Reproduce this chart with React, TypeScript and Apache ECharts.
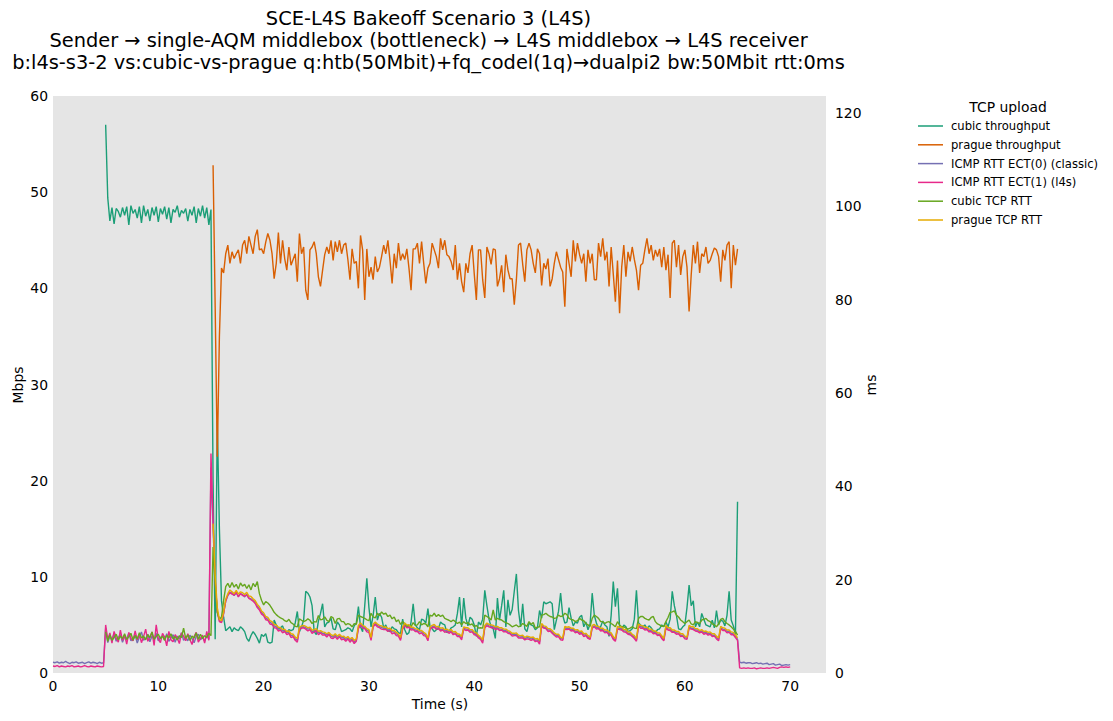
import React, { useEffect, useRef } from "react";
import * as echarts from "echarts";

const STEP = 0.2;
const FONT = "'DejaVu Sans', sans-serif";

const SERIES_NAMES = [
  "cubic throughput",
  "prague throughput",
  "ICMP RTT ECT(0) (classic)",
  "ICMP RTT ECT(1) (l4s)",
  "cubic TCP RTT",
  "prague TCP RTT",
];
const SERIES_COLORS = ["#1b9e77", "#d95f02", "#7570b3", "#e7298a", "#66a61e", "#e6ab02"];

const X_TICKS = [0, 10, 20, 30, 40, 50, 60, 70];
const LEFT_TICKS = [0, 10, 20, 30, 40, 50, 60];
const RIGHT_TICKS = [0, 20, 40, 60, 80, 100, 120];

// cubic throughput (Mbps), from 5.0 s
const cubicTputStart = 5.0;
const cubicTput = [
  57.0, 49.4, 47.0, 48.4, 46.7,
  48.3, 48.0, 47.4, 48.4, 47.6,
  48.5, 46.6, 48.6, 47.8, 48.2,
  47.3, 48.5, 46.8, 48.6, 47.5,
  48.2, 47.0, 48.4, 47.6, 48.5,
  46.9, 48.3, 47.7, 48.5, 47.2,
  48.4, 46.8, 48.2, 47.9, 48.6,
  47.4, 48.1, 47.8, 48.3, 47.0,
  48.2, 47.6, 48.5, 46.8, 48.3,
  47.5, 48.6, 47.3, 48.4, 46.6,
  48.2, 20.0, 3.5, 26.2, 15.0,
  7.5, 5.8, 4.4, 4.6, 4.8,
  4.3, 4.7, 4.5, 4.4, 4.8,
  4.6, 4.3, 3.6, 3.3, 3.9,
  4.3, 4.0, 3.6, 3.1, 4.0,
  3.8, 4.1, 3.2, 3.1, 3.2,
  5.5, 5.0, 4.6, 4.7, 4.9,
  4.3, 4.2, 4.5, 4.4, 4.5,
  5.2, 6.4, 4.3, 4.8, 5.5,
  8.5, 8.3, 7.9, 7.0, 4.3,
  4.0, 5.4, 6.2, 7.2, 4.8,
  5.2, 5.3, 5.7, 4.6, 4.5,
  5.3, 5.0, 4.3, 4.4, 4.5,
  4.7, 4.6, 4.3, 4.9, 5.2,
  6.9, 4.8, 4.3, 7.0, 9.85,
  6.8, 4.8, 6.0, 7.9, 5.5,
  6.2, 5.8, 4.7, 5.0, 4.4,
  4.3, 4.8, 4.6, 4.5, 4.2,
  4.1, 5.6, 4.5, 4.0, 4.2,
  5.3, 7.2, 5.0, 4.7, 4.5,
  5.6, 5.5, 5.2, 6.7, 4.8,
  4.6, 4.3, 4.5, 4.6, 5.3,
  5.1, 5.0, 4.2, 4.3, 4.7,
  4.8, 5.0, 6.2, 7.9, 4.8,
  7.8, 5.7, 4.9, 5.8, 5.6,
  5.0, 3.8, 5.3, 5.0, 5.6,
  8.6, 7.0, 5.6, 4.8, 4.6,
  3.6, 7.8, 5.5, 7.0, 8.6,
  4.8, 7.6, 6.0, 6.6, 8.5,
  10.3, 6.5, 4.8, 7.2, 4.6,
  4.3, 5.2, 5.0, 4.9, 4.5,
  4.7, 6.5, 5.7, 7.4, 7.2,
  7.3, 7.4, 7.2, 4.5, 5.5,
  6.4, 8.3, 6.0, 5.2, 5.3,
  6.8, 5.7, 4.9, 5.3, 5.2,
  5.8, 6.0, 4.8, 5.3, 4.5,
  5.1, 8.3, 6.0, 5.2, 4.6,
  4.8, 5.4, 5.0, 4.8, 3.8,
  6.0, 9.5, 6.9, 8.8, 4.8,
  4.5, 5.0, 4.8, 4.3, 4.4,
  4.6, 5.6, 8.6, 5.2, 5.0,
  4.8, 5.0, 4.6, 4.9, 4.7,
  4.4, 4.2, 4.5, 4.6, 5.0,
  4.8, 5.3, 4.8, 5.6, 8.5,
  7.0, 6.0, 4.6, 4.5, 4.8,
  5.0, 6.8, 9.15, 7.0, 7.5,
  4.8, 5.3, 4.8, 6.2, 5.6,
  5.0, 4.9, 4.8, 5.5, 4.7,
  6.5, 5.0, 5.5, 5.4, 4.9,
  6.0, 8.5, 5.5, 4.9, 4.0,
  17.8,
];

// prague throughput (Mbps), from 15.2 s
const pragueTputStart = 15.2;
const pragueTput = [
  52.8, 38.0, 22.5, 35.0,
  42.1, 41.6, 43.6, 44.5, 42.6, 43.8, 43.1, 43.6, 44.0, 42.6,
  44.5, 45.0, 43.6, 45.4, 44.5, 43.6, 45.4, 46.1, 44.0, 44.1,
  43.6, 44.8, 45.7, 45.0, 43.6, 41.0, 42.6, 45.8, 42.6, 45.0,
  43.1, 41.9, 44.3, 42.4, 43.0, 43.6, 40.7, 45.7, 43.6, 44.3,
  39.8, 38.8, 44.0, 44.3, 44.85, 43.6, 41.2, 40.2, 41.9, 43.5,
  44.3, 43.6, 45.0, 42.9, 44.85, 43.8, 45.0, 43.6, 44.5, 44.7,
  43.0, 40.9, 44.1, 42.6, 42.8, 40.0, 45.5, 44.0, 38.8, 44.1,
  41.2, 42.2, 40.9, 43.3, 41.7, 42.2, 43.3, 44.5, 43.6, 45.0,
  42.9, 40.5, 43.6, 42.1, 44.7, 42.9, 43.6, 43.0, 44.1, 42.1,
  39.8, 44.1, 44.1, 44.7, 42.6, 44.85, 42.6, 40.5, 42.1, 42.6,
  44.7, 44.0, 43.3, 42.1, 45.2, 44.0, 45.0, 43.5, 43.3, 42.8,
  41.9, 44.5, 40.9, 42.6, 40.7, 39.6, 42.6, 41.6, 43.6, 44.5,
  41.5, 38.8, 44.0, 44.0, 40.9, 39.0, 44.3, 43.6, 42.5, 44.1,
  44.0, 40.2,
  41.0,
  42.4, 39.6, 43.5, 41.9, 41.0, 41.0, 38.3, 40.9, 44.5, 44.7,
  42.5, 40.7, 44.0, 44.7, 44.0, 42.6, 41.6, 44.1, 43.6, 40.3,
  42.6, 42.0, 43.1, 40.2, 41.0, 42.6, 43.8, 43.0, 42.2, 41.7,
  38.1, 44.1, 42.6, 41.2, 45.0, 42.8, 44.7, 43.5, 42.6, 43.6,
  40.7, 44.0, 42.6, 43.6, 40.9, 40.9, 44.7, 43.3, 45.2, 42.9,
  43.8, 40.2, 44.3, 41.5, 38.6, 42.9, 37.4, 42.2, 44.5, 41.2,
  43.8, 42.8, 44.3, 43.0, 41.9, 39.8, 42.4, 42.6, 44.0, 45.2,
  43.6, 44.5, 42.9, 44.0, 43.3, 44.1, 42.2, 44.3, 41.9, 43.5,
  39.0, 44.7, 45.0, 42.2, 44.5, 41.4, 43.3, 44.0, 42.2, 37.6,
  41.4, 44.5, 42.6, 44.85, 41.6, 43.6, 43.3, 44.3, 42.6, 42.9,
  43.6, 44.2, 44.0, 43.3, 40.7, 44.0, 42.9, 44.5, 44.85, 40.0,
  44.5, 42.4, 44.1,
];

// ICMP RTT ECT(0) (ms), from 0.0 s
const icmpEct0Start = 0.0;
const icmpEct0 = [
  2.3, 2.2, 2.4, 2.1, 2.3,
  2.2, 2.5, 2.2, 2.0, 2.3,
  2.2, 2.4, 2.1, 2.2, 2.3,
  2.0, 2.2, 2.4, 2.1, 2.3,
  2.2, 2.0, 2.3, 2.1, 2.2,
  9.6, 6.5, 7.9, 7.0, 8.5,
  6.8, 7.6, 8.2, 6.6, 7.8,
  7.2, 8.6, 6.9, 7.5, 8.1,
  6.4, 7.7, 8.8, 7.0, 7.4,
  8.3, 6.7, 7.9, 7.2, 8.5,
  6.9, 7.6, 8.0, 7.1, 8.4,
  6.8, 7.5, 8.2, 6.6, 7.9,
  7.3, 8.6, 7.0, 7.7, 6.9,
  8.1, 7.4, 6.5, 7.8, 8.3,
  7.1, 7.6, 6.8, 8.0, 7.3,
  44.0, 31.0, 19.5, 13.2, 11.3,
  10.9, 12.7, 15.4, 16.6, 17.3,
  17.1, 16.6, 17.2, 16.4, 17.0,
  16.8, 16.3, 16.9, 16.1, 15.9,
  15.5, 15.1, 14.3, 13.8, 13.0,
  12.5, 11.8, 11.5, 10.9, 10.6,
  10.1, 9.9, 9.4, 9.4, 9.0,
  9.1, 8.6, 8.7, 8.0, 8.0,
  7.3, 7.0, 9.5, 9.8, 9.9,
  9.7, 9.4, 9.5, 8.9, 9.0,
  9.2, 8.6, 8.8, 8.5, 8.4,
  8.1, 8.4, 7.9, 7.7, 8.1,
  7.6, 8.0, 7.5, 7.6, 7.2,
  7.5, 7.0, 7.3, 6.6, 7.0,
  9.8, 10.4, 9.9, 9.7, 9.2,
  9.0, 7.3, 10.1, 10.6, 10.2,
  9.9, 9.8, 9.5, 9.6, 9.2,
  9.3, 8.8, 8.8, 8.4, 8.1,
  7.3, 9.6, 10.4, 10.0, 10.0,
  9.5, 9.5, 9.2, 9.1, 8.8,
  8.8, 8.4, 8.1, 7.2, 9.6,
  9.9, 10.1, 9.6, 9.7, 9.3,
  9.4, 9.0, 9.1, 8.8, 9.0,
  8.5, 8.6, 8.1, 8.0, 7.5,
  9.6, 9.4, 9.4, 9.0, 9.0,
  8.5, 8.3, 7.8, 7.4, 6.8,
  9.9, 10.4, 10.1, 10.0, 9.9,
  9.6, 9.7, 9.4, 9.4, 9.1,
  9.1, 8.8, 8.6, 8.2, 8.2,
  8.3, 7.8, 7.7, 7.8, 7.3,
  7.6, 7.5, 7.3, 7.4, 7.0,
  7.1, 6.7, 10.3, 9.8, 9.7,
  9.2, 9.2, 8.8, 8.3, 8.0,
  8.0, 7.4, 7.2, 9.7, 9.5,
  9.6, 9.3, 9.3, 8.9, 9.0,
  8.6, 8.7, 8.1, 8.2, 7.7,
  7.4, 9.9, 10.1, 9.7, 9.7,
  9.3, 9.3, 8.9, 8.9, 8.5,
  8.3, 7.5, 7.1, 9.7, 9.5,
  9.5, 9.0, 9.0, 8.5, 8.5,
  8.0, 7.7, 7.1, 10.2, 9.9,
  9.8, 9.5, 9.5, 9.1, 9.1,
  8.7, 8.7, 8.3, 8.3, 7.7,
  7.1, 9.9, 9.4, 9.4, 8.9,
  8.9, 8.6, 8.6, 8.1, 8.1,
  7.6, 7.4, 9.9, 9.6, 9.6,
  9.2, 9.2, 8.8, 9.0, 8.6,
  8.7, 8.4, 8.5, 8.1, 8.1,
  7.6, 7.2, 9.7, 9.4, 9.3,
  8.9, 8.9, 8.5, 8.4, 7.9,
  7.2, 2.3, 2.2, 2.3, 2.1,
  2.2, 2.2, 2.0, 2.1, 2.2,
  2.0, 2.1, 1.9, 2.0, 2.1,
  1.8, 1.9, 2.0, 1.7, 1.8,
  1.9, 1.6, 1.7, 1.8, 1.7,
  1.8,
];

// ICMP RTT ECT(1) (ms), from 0.0 s
const icmpEct1Start = 0.0;
const icmpEct1 = [
  1.5, 1.4, 1.6, 1.3, 1.5,
  1.4, 1.3, 1.5, 1.4, 1.6,
  1.3, 1.4, 1.5, 1.3, 1.4,
  1.6, 1.4, 1.3, 1.5, 1.4,
  1.3, 1.5, 1.4, 1.3, 1.4,
  10.3, 7.2, 8.6, 6.4, 8.9,
  7.5, 6.6, 9.2, 7.0, 8.1,
  6.2, 8.7, 7.4, 6.9, 9.0,
  7.1, 8.3, 6.5, 7.8, 9.4,
  6.8, 7.6, 8.8, 5.9, 10.3,
  7.3, 6.5, 8.5, 7.7, 5.8,
  8.9, 7.1, 6.7, 8.2, 7.5,
  6.3, 8.6, 7.9, 6.9, 8.4,
  7.2, 6.1, 7.8, 8.7, 6.6,
  7.4, 8.1, 6.4, 8.9, 7.0,
  47.0, 32.5, 20.0, 13.0, 11.0,
  10.8, 12.8, 15.4, 16.7, 17.2,
  16.9, 16.7, 17.3, 16.3, 17.0,
  16.6, 16.5, 16.7, 16.0, 15.7,
  15.4, 14.9, 14.0, 13.5, 12.6,
  12.3, 11.4, 11.3, 10.5, 10.4,
  9.7, 9.6, 9.0, 9.2, 8.6,
  8.9, 8.2, 8.5, 7.6, 7.8,
  7.0, 6.6, 9.3, 9.6, 9.7,
  9.4, 9.0, 9.3, 8.5, 8.8,
  9.0, 8.2, 8.6, 8.1, 8.2,
  7.7, 8.3, 7.5, 7.4, 7.8,
  7.2, 7.8, 7.1, 7.3, 6.8,
  7.3, 6.6, 7.1, 6.3, 6.8,
  9.5, 10.2, 9.6, 9.5, 8.8,
  8.7, 7.0, 9.9, 10.4, 9.9,
  9.7, 9.4, 9.3, 9.3, 8.9,
  9.1, 8.4, 8.6, 8.0, 7.9,
  7.0, 9.4, 10.1, 9.7, 9.8,
  9.2, 9.3, 8.9, 8.9, 8.4,
  8.6, 8.0, 7.9, 6.9, 9.4,
  9.7, 9.8, 9.4, 9.5, 9.0,
  9.2, 8.7, 8.9, 8.5, 8.8,
  8.2, 8.4, 7.8, 7.8, 7.1,
  9.4, 9.1, 9.2, 8.7, 8.8,
  8.2, 8.1, 7.5, 7.2, 6.4,
  9.7, 10.1, 9.9, 9.7, 9.7,
  9.3, 9.5, 9.1, 9.2, 8.8,
  8.9, 8.5, 8.4, 7.9, 8.0,
  8.0, 7.5, 7.5, 7.5, 7.1,
  7.3, 7.2, 7.0, 7.2, 6.7,
  6.9, 6.2, 10.0, 9.6, 9.5,
  8.9, 9.0, 8.5, 8.1, 7.7,
  7.8, 7.1, 7.0, 9.4, 9.3,
  9.4, 9.0, 9.1, 8.6, 8.8,
  8.3, 8.5, 7.8, 8.0, 7.4,
  7.2, 9.6, 9.9, 9.4, 9.5,
  9.0, 9.1, 8.6, 8.7, 8.2,
  8.1, 7.2, 6.8, 9.4, 9.3,
  9.2, 8.8, 8.7, 8.3, 8.2,
  7.8, 7.4, 6.8, 10.0, 9.6,
  9.6, 9.2, 9.3, 8.8, 8.9,
  8.4, 8.5, 8.0, 8.1, 7.4,
  6.9, 9.6, 9.2, 9.1, 8.7,
  8.7, 8.3, 8.4, 7.8, 7.9,
  7.3, 7.2, 9.6, 9.4, 9.3,
  9.0, 8.9, 8.6, 8.8, 8.3,
  8.5, 8.1, 8.3, 7.8, 7.9,
  7.3, 6.9, 9.5, 9.1, 9.1,
  8.6, 8.7, 8.2, 8.2, 7.6,
  7.0, 1.1, 1.0, 1.1, 1.0,
  1.1, 1.0, 1.0, 1.1, 0.9,
  1.0, 1.1, 1.0, 1.0, 1.1,
  1.0, 1.1, 1.2, 1.1, 1.0,
  1.2, 1.3, 1.2, 1.3, 1.2,
  1.3,
];

// cubic TCP RTT (ms), from 5.0 s
const cubicRttStart = 5.0;
const cubicRtt = [
  8.8, 6.8, 8.2, 7.0, 7.6,
  8.3, 7.1, 7.9, 7.4, 8.4,
  7.2, 7.8, 8.5, 7.0, 8.0,
  7.3, 8.6, 7.5, 7.9, 7.1,
  8.2, 7.6, 8.8, 7.2, 7.8,
  8.3, 7.4, 7.9, 7.0, 8.1,
  7.5, 8.4, 7.3, 7.8, 7.1,
  8.0, 7.6, 9.6, 7.4, 8.2,
  7.0, 7.9, 7.5, 8.6, 7.2,
  8.3, 7.4, 8.0, 7.6, 8.5,
  8.0, 27.0, 19.0, 13.0, 11.5,
  12.0, 15.5, 18.5, 19.2, 18.3,
  19.4, 18.4, 19.0, 18.0, 19.3,
  18.6, 19.0, 18.1, 18.9, 17.8,
  19.2, 18.5, 19.6, 17.0, 15.6,
  14.6, 15.3, 15.0, 14.5, 13.8,
  13.0, 12.5, 12.1, 11.8, 11.6,
  11.2, 11.0, 11.5, 10.8, 10.5,
  10.0, 9.9, 11.6, 11.3, 11.0,
  11.2, 11.6, 11.3, 10.6, 11.0,
  10.9, 12.3, 11.4, 11.5, 12.0,
  11.3, 11.0, 12.1, 11.8, 10.6,
  11.6, 11.7, 11.0, 11.0, 10.3,
  10.6, 10.4, 9.9, 10.6, 10.4,
  12.4, 12.1, 11.9, 11.7, 11.4,
  11.2, 12.8, 12.0, 11.8, 12.8,
  12.3, 13.1, 12.6, 12.8, 12.1,
  12.4, 11.6, 12.0, 11.0, 11.4,
  10.4, 11.0, 10.6, 10.0, 10.3,
  9.9, 10.8, 10.2, 10.3, 11.0,
  10.3, 10.6, 10.5, 9.9, 12.4,
  12.2, 12.8, 12.1, 12.5, 12.1,
  12.4, 11.7, 11.5, 11.3, 11.0,
  11.35, 11.0, 10.6, 10.9, 10.3,
  11.0, 10.6, 10.8, 10.3, 10.5,
  9.9, 10.2, 9.6, 9.7, 9.6,
  12.4, 12.1, 11.8, 11.35, 13.5,
  11.35, 11.7, 11.5, 11.35, 11.0,
  10.8, 10.6, 10.3, 9.9, 10.1,
  10.3, 9.9, 10.1, 10.6, 10.3,
  10.0, 11.0, 10.4, 10.8, 9.6,
  9.8, 9.9, 12.4, 12.5, 12.8,
  12.4, 12.1, 12.0, 11.7, 11.8,
  12.4, 12.1, 12.2, 12.8, 12.5,
  11.7, 11.5, 11.35, 11.0, 11.2,
  11.7, 11.35, 11.2, 10.6, 10.3,
  10.0, 11.7, 12.4, 12.1, 11.7,
  11.0, 11.0, 10.6, 10.9, 11.0,
  10.6, 10.3, 9.9, 11.0, 10.3,
  9.9, 9.9, 9.6, 9.4, 9.6,
  9.9, 9.6, 9.5, 11.7, 12.1,
  12.1, 11.7, 11.5, 11.35, 11.9,
  12.1, 11.0, 10.5, 10.3, 10.0,
  10.0, 11.0, 11.9, 13.0, 13.1,
  13.3, 12.4, 12.0, 11.35, 11.0,
  10.6, 11.0, 11.35, 10.5, 10.3,
  11.0, 10.8, 10.6, 11.35, 11.5,
  11.7, 11.2, 11.0, 10.5, 10.3,
  9.9, 10.5, 11.5, 11.7, 11.0,
  10.6, 10.3, 9.9, 9.4, 8.9,
  8.1,
];

// prague TCP RTT (ms), from 15.2 s
const pragueRttStart = 15.2;
const pragueRtt = [
  32.0, 21.0, 14.0, 11.5, 11.2,
  13.0, 15.8, 17.0, 17.8, 17.4,
  17.0, 17.7, 16.9, 17.4, 17.2,
  16.8, 17.3, 16.5, 16.4, 15.9,
  15.5, 14.7, 14.2, 13.3, 12.9,
  12.1, 11.9, 11.2, 11.0, 10.4,
  10.3, 9.8, 9.7, 9.3, 9.4,
  8.9, 9.0, 8.4, 8.3, 7.7,
  7.4, 9.8, 10.1, 10.2, 10.0,
  9.7, 9.8, 9.2, 9.3, 9.5,
  8.9, 9.1, 8.8, 8.7, 8.4,
  8.7, 8.2, 8.0, 8.4, 7.9,
  8.3, 7.8, 7.9, 7.5, 7.8,
  7.3, 7.6, 7.0, 7.3, 10.2,
  10.7, 10.2, 10.0, 9.5, 9.3,
  7.6, 10.5, 10.9, 10.5, 10.2,
  10.1, 9.8, 9.9, 9.5, 9.6,
  9.1, 9.1, 8.7, 8.4, 7.6,
  9.9, 10.7, 10.3, 10.3, 9.8,
  9.8, 9.5, 9.4, 9.1, 9.1,
  8.7, 8.4, 7.5, 9.9, 10.2,
  10.4, 9.9, 10.0, 9.6, 9.7,
  9.3, 9.4, 9.1, 9.3, 8.8,
  8.9, 8.4, 8.3, 7.8, 9.9,
  9.7, 9.7, 9.3, 9.3, 8.8,
  8.6, 8.1, 7.7, 7.1, 10.2,
  10.7, 10.4, 10.3, 10.2, 9.9,
  10.0, 9.7, 9.7, 9.4, 9.4,
  9.1, 8.9, 8.5, 8.5, 8.6,
  8.1, 8.0, 8.1, 7.6, 7.9,
  7.8, 7.6, 7.7, 7.3, 7.4,
  7.0, 10.6, 10.1, 10.0, 9.5,
  9.5, 9.1, 8.6, 8.3, 8.3,
  7.7, 7.5, 10.0, 9.8, 9.9,
  9.6, 9.6, 9.2, 9.3, 8.9,
  9.0, 8.4, 8.5, 8.0, 7.7,
  10.2, 10.4, 10.0, 10.0, 9.6,
  9.6, 9.2, 9.2, 8.8, 8.6,
  7.8, 7.4, 10.0, 9.8, 9.8,
  9.3, 9.3, 8.8, 8.8, 8.3,
  8.0, 7.4, 10.5, 10.2, 10.1,
  9.8, 9.8, 9.4, 9.4, 9.0,
  9.0, 8.6, 8.6, 8.0, 7.4,
  10.2, 9.7, 9.7, 9.2, 9.2,
  8.9, 8.9, 8.4, 8.4, 7.9,
  7.7, 10.2, 9.9, 9.9, 9.5,
  9.5, 9.1, 9.3, 8.9, 9.0,
  8.7, 8.8, 8.4, 8.4, 7.9,
  7.5, 10.0, 9.7, 9.6, 9.2,
  9.2, 8.8, 8.7, 8.2, 7.5,
];

const SERIES_DATA: Array<[number, number[], number]> = [
  [cubicTputStart, cubicTput, 0],
  [pragueTputStart, pragueTput, 0],
  [icmpEct0Start, icmpEct0, 1],
  [icmpEct1Start, icmpEct1, 1],
  [cubicRttStart, cubicRtt, 1],
  [pragueRttStart, pragueRtt, 1],
];

function toPairs(start: number, values: number[]) {
  return values.map((v, i) => [Math.round((start + i * STEP) * 10) / 10, v]);
}

function tickFormatter(ticks: number[]) {
  return (v: number) => (ticks.indexOf(Math.round(v * 1000) / 1000) >= 0 ? String(v) : "");
}

function textEl(text: string, x: number, y: number, fontSize: number, rotated = false) {
  return {
    type: "text",
    silent: true,
    x,
    y,
    rotation: rotated ? Math.PI / 2 : 0,
    style: {
      text,
      x: 0,
      y: 0,
      align: "center",
      verticalAlign: "middle",
      fontFamily: FONT,
      fontSize,
      fill: "#000",
    },
  };
}

export default function App() {
  const ref = useRef<HTMLDivElement>(null);

  useEffect(() => {
    if (!ref.current) return;
    const chart = echarts.init(ref.current, undefined, { renderer: "svg" });

    const labelStyle = { color: "#000", fontFamily: FONT, fontSize: 13.9 };

    chart.setOption({
      animation: false,
      backgroundColor: "#ffffff",
      textStyle: { fontFamily: FONT },
      grid: {
        left: 53,
        top: 96,
        width: 773,
        height: 577,
        show: true,
        backgroundColor: "#e5e5e5",
        borderWidth: 0,
        containLabel: false,
      },
      xAxis: {
        type: "value",
        min: 0,
        max: 73.4,
        interval: 10,
        axisLine: { show: false },
        axisTick: { show: false },
        splitLine: { show: false },
        axisLabel: { ...labelStyle, margin: 6, formatter: tickFormatter(X_TICKS) },
      },
      yAxis: [
        {
          type: "value",
          min: 0,
          max: 60,
          interval: 10,
          position: "left",
          axisLine: { show: false },
          axisTick: { show: false },
          splitLine: { show: false },
          axisLabel: { ...labelStyle, margin: 5, formatter: tickFormatter(LEFT_TICKS) },
        },
        {
          type: "value",
          min: 0,
          max: 123.6,
          interval: 20,
          position: "right",
          axisLine: { show: false },
          axisTick: { show: false },
          splitLine: { show: false },
          axisLabel: { ...labelStyle, margin: 9, formatter: tickFormatter(RIGHT_TICKS) },
        },
      ],
      legend: {
        orient: "vertical",
        left: 918,
        top: 120,
        padding: 0,
        icon: "rect",
        itemWidth: 25,
        itemHeight: 1.5,
        itemGap: 6.8,
        data: SERIES_NAMES,
        textStyle: { color: "#000", fontFamily: FONT, fontSize: 11.6, lineHeight: 12, padding: [0, 0, 0, 3] },
        selectedMode: false,
      },
      graphic: [
        textEl("SCE-L4S Bakeoff Scenario 3 (L4S)", 428.5, 18, 19.4),
        textEl("Sender → single-AQM middlebox (bottleneck) → L4S middlebox → L4S receiver", 428.5, 40, 19.4),
        textEl(
          "b:l4s-s3-2 vs:cubic-vs-prague q:htb(50Mbit)+fq_codel(1q)→dualpi2 bw:50Mbit rtt:0ms",
          428.5,
          62,
          19.4
        ),
        textEl("Mbps", 18, 385, 13.9, true),
        textEl("ms", 871, 385, 13.9, true),
        textEl("Time (s)", 440, 704, 13.9),
        textEl("TCP upload", 1008, 107, 13.9),
      ],
      series: SERIES_DATA.map(([start, values, axis], i) => ({
        name: SERIES_NAMES[i],
        type: "line",
        yAxisIndex: axis,
        data: toPairs(start, values),
        showSymbol: false,
        symbol: "none",
        color: SERIES_COLORS[i],
        lineStyle: { width: 1.4, color: SERIES_COLORS[i] },
        emphasis: { disabled: true },
      })),
    });

    return () => {
      chart.dispose();
    };
  }, []);

  return (
    <div
      ref={ref}
      style={{ position: "absolute", left: 0, top: 0, width: 1113, height: 721, background: "#fff" }}
    />
  );
}
